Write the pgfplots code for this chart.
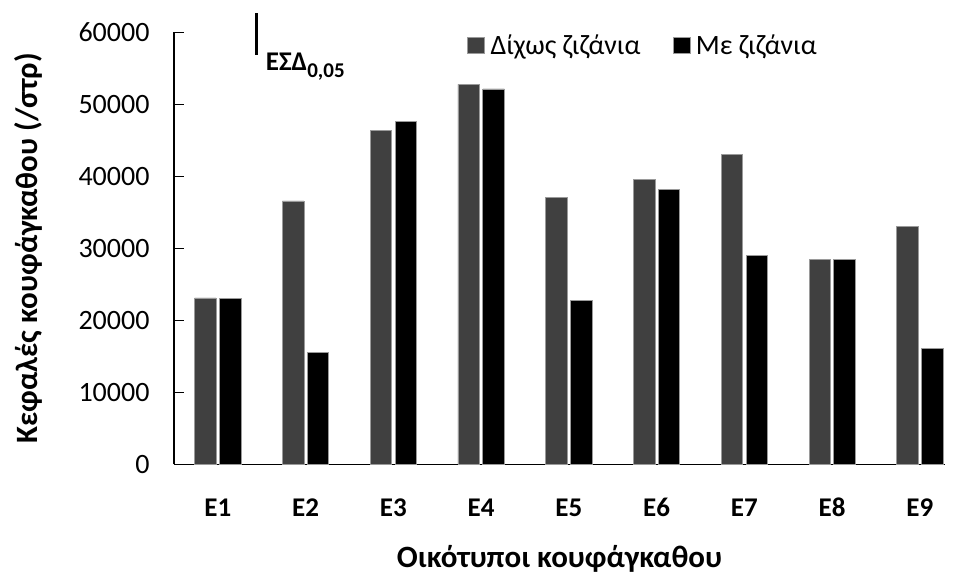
\documentclass[border=0pt]{standalone}
\usepackage{fontspec}
\setmainfont{Carlito}
\usepackage{pgfplots}
\pgfplotsset{compat=1.18}
\definecolor{darkbar}{HTML}{404040}
\definecolor{edgegray}{HTML}{9A9A9A}
\begin{document}
\begin{tikzpicture}
\path[use as bounding box] (0,0) rectangle (955bp,575bp);
\begin{axis}[
  at={(174bp,110.7bp)}, anchor=south west,
  scale only axis, width=771bp, height=432bp,
  xmin=-0.5, xmax=8.286, ymin=0, ymax=60000,
  clip=false,
  axis x line*=bottom, axis y line*=left,
  axis line style={line width=1.5bp, black},
  xtick={0,1,2,3,4,5,6,7,8},
  xticklabels={E1,E2,E3,E4,E5,E6,E7,E8,E9},
  xtick style={draw=none},
  ytick={0,10000,20000,30000,40000,50000,60000},
  scaled y ticks=false,
  tick align=inside,
  major tick length=10bp,
  ytick style={line width=1.5bp, black},
  /pgf/number format/assume math mode=true,
  /pgf/number format/1000 sep={},
  yticklabel style={font=\fontsize{28bp}{32bp}\selectfont, anchor=east, xshift=-21bp},
  xticklabel style={font=\fontsize{27bp}{32bp}\selectfont\bfseries, anchor=base, yshift=-52bp},
  xlabel={Οικότυποι κουφάγκαθου},
  ylabel={Κεφαλές κουφάγκαθου (/στρ)},
  xlabel style={font=\fontsize{31bp}{36bp}\selectfont\bfseries, at={(axis description cs:0.5,-0.24)}, anchor=base},
  ylabel style={font=\fontsize{31bp}{36bp}\selectfont\bfseries, at={(axis description cs:-0.1764,0.5)}, anchor=base, rotate=0},
  legend columns=2,
  legend style={draw=none, fill=none, at={(axis description cs:0.380,0.9694)}, anchor=west,
    font=\fontsize{28bp}{32bp}\selectfont, inner sep=0pt,
    /tikz/every even column/.append style={column sep=30bp}},
  legend cell align=left,
]
\addplot[ybar, bar width=21.5bp, bar shift=-12.4bp, fill=darkbar, draw=edgegray, line width=0.8bp,
  area legend, legend image code/.code={\draw[fill=darkbar, draw=edgegray, line width=0.8bp] (0bp,-8bp) rectangle (17bp,8bp); \path[draw=none, fill=none] (0bp,0bp) rectangle (21bp,0.1bp);}]
  coordinates {(0,23100) (1,36570) (2,46330) (3,52780) (4,37120) (5,39580) (6,43050) (7,28510) (8,33050)};
\addlegendentry{Δίχως ζιζάνια}
\addplot[ybar, bar width=21.5bp, bar shift=12.4bp, fill=black, draw=edgegray, line width=0.8bp,
  area legend, legend image code/.code={\draw[fill=black, draw=edgegray, line width=0.8bp] (0bp,-8bp) rectangle (17bp,8bp); \path[draw=none, fill=none] (0bp,0bp) rectangle (21bp,0.1bp);}]
  coordinates {(0,23050) (1,15500) (2,47580) (3,52130) (4,22730) (5,38140) (6,28980) (7,28470) (8,16110)};
\addlegendentry{Με ζιζάνια}
\addplot[black, line width=3bp, forget plot] coordinates {(0.4376,56850) (0.4376,62720)};
\node[anchor=base west, inner sep=0pt, font=\fontsize{27bp}{32bp}\selectfont\bfseries] at (axis cs:0.5447,54760) {ΕΣΔ\raisebox{-7bp}{\fontsize{21bp}{24bp}\selectfont 0,05}};
\end{axis}
\end{tikzpicture}
\end{document}
